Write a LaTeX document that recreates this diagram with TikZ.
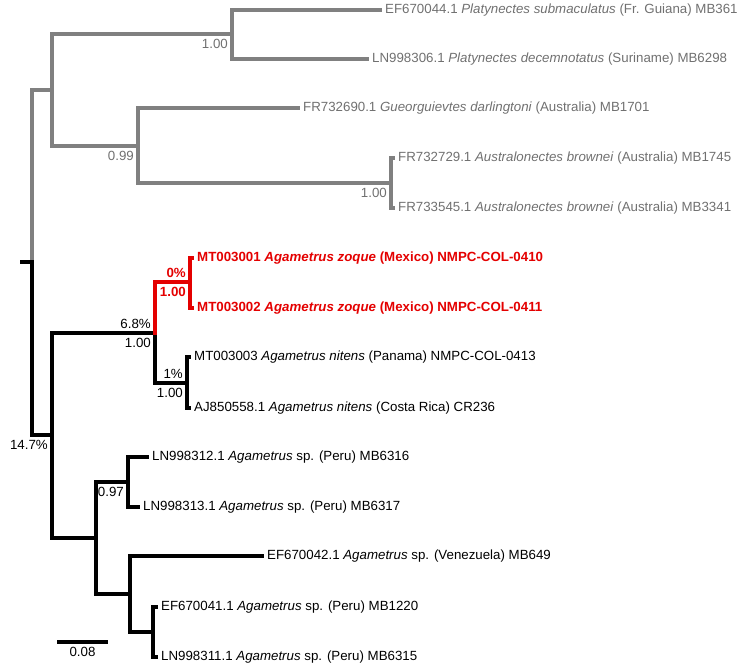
\documentclass[tikz,border=0pt]{standalone}
\usepackage{fontspec}
\setmainfont{Liberation Sans}
\definecolor{treegray}{RGB}{128,128,128}
\definecolor{labelgray}{RGB}{112,112,112}
\definecolor{zoquered}{RGB}{228,0,0}

\tikzset{
  branch/.style={line width=3.2pt, line cap=rect, line join=miter},
  tiplabel/.style={anchor=west, inner sep=0pt, xshift=5pt, font=\fontsize{13.3}{15}\selectfont},
  supbelow/.style={anchor=north east, inner sep=0pt, xshift=-4pt, yshift=-5pt, font=\fontsize{13.3}{15}\selectfont},
  supabove/.style={anchor=south east, inner sep=0pt, xshift=-4pt, yshift=4.5pt, font=\fontsize{13.3}{15}\selectfont},
}

% leaf: name, position, label, style
\NewDocumentCommand{\leaf}{mmmO{}}{%
\coordinate (#1) at (#2);
\node[tiplabel,#4] (#1l) at (#1) {#3};
}

\begin{document}
\begin{tikzpicture}[x=1pt, y=-1pt]
        \useasboundingbox (0,0) rectangle (750,665);

        % inner nodes
        \coordinate (r0) at (22,262);
        \coordinate (r) at (32,262);
        \coordinate (g) at (52,90);
        \coordinate (pl) at (232,34);
        \coordinate (au) at (138,146);
        \coordinate (aub) at (391,183);
        \coordinate (b) at (52,435);
        \coordinate (m) at (155,333);
        \coordinate (zq) at (190,282);
        \coordinate (nt) at (187,383);
        \coordinate (c) at (96,538);
        \coordinate (sp) at (128,482);
        \coordinate (v) at (130,594);
        \coordinate (w) at (153,632);

        % leaves, outgroup
        \leaf{t1}{380,10}{EF670044.1 \textit{Platynectes submaculatus} (Fr. Guiana) MB361}[labelgray]
        \leaf{t2}{367,59}{LN998306.1 \textit{Platynectes decemnotatus} (Suriname) MB6298}[labelgray]
        \leaf{t3}{298,108}{FR732690.1 \textit{Gueorguievtes darlingtoni} (Australia) MB1701}[labelgray]
        \leaf{t4}{393,158}{FR732729.1 \textit{Australonectes brownei} (Australia) MB1745}[labelgray]
        \leaf{t5}{393,208}{FR733545.1 \textit{Australonectes brownei} (Australia) MB3341}[labelgray]

        % leaves, Agametrus
        \leaf{t6}{192,258}{\textbf{MT003001 \textit{Agametrus zoque} (Mexico) NMPC-COL-0410}}[zoquered]
        \leaf{t7}{192,308}{\textbf{MT003002 \textit{Agametrus zoque} (Mexico) NMPC-COL-0411}}[zoquered]
        \leaf{t8}{189,357}{MT003003 \textit{Agametrus nitens} (Panama) NMPC-COL-0413}
        \leaf{t9}{189,408}{AJ850558.1 \textit{Agametrus nitens} (Costa Rica) CR236}
        \leaf{t10}{147,457}{LN998312.1 \textit{Agametrus} sp. (Peru) MB6316}
        \leaf{t11}{138,507}{LN998313.1 \textit{Agametrus} sp. (Peru) MB6317}
        \leaf{t12}{262,556}{EF670042.1 \textit{Agametrus} sp. (Venezuela) MB649}
        \leaf{t13}{156,607}{EF670041.1 \textit{Agametrus} sp. (Peru) MB1220}
        \leaf{t14}{156,657}{LN998311.1 \textit{Agametrus} sp. (Peru) MB6315}

        % branches
        \draw[branch, treegray] (r) |- (g) (g) |- (pl) (g) |- (au)
            (pl) |- (t1) (pl) |- (t2) (au) |- (t3) (au) |- (aub)
            (aub) |- (t4) (aub) |- (t5);
        \draw[branch] (r0) -- (r) (r) |- (b) (b) |- (c) (b) |- (m)
            (m) |- (nt) (nt) |- (t8) (nt) |- (t9)
            (c) |- (sp) (c) |- (v) (sp) |- (t10) (sp) |- (t11)
            (v) |- (t12) (v) |- (w) (w) |- (t13) (w) |- (t14);
        \draw[branch, zoquered] (m) |- (zq) (zq) |- (t6) (zq) |- (t7);

        % support values
        \node[supbelow, labelgray] (s1) at (pl) {1.00};
        \node[supbelow, labelgray] (s2) at (au) {0.99};
        \node[supbelow, labelgray] (s3) at (aub) {1.00};
        \node[supbelow] (s4) at (b) {14.7\%};
        \node[supabove] (s5) at (m) {6.8\%};
        \node[supbelow] (s6) at (m) {1.00};
        \node[supabove, zoquered, font=\fontsize{13.3}{15}\selectfont\bfseries] (s7) at (zq) {0\%};
        \node[supbelow, zoquered, font=\fontsize{13.3}{15}\selectfont\bfseries] (s8) at (zq) {1.00};
        \node[supabove] (s9) at (nt) {1\%};
        \node[supbelow] (s10) at (nt) {1.00};
        \node[supbelow] (s11) at (sp) {0.97};

        % scale bar
        \coordinate (sb1) at (57,642);
        \coordinate (sb2) at (108,642);
        \draw[line width=3.2pt] (sb1) -- (sb2) node[midway, below=4pt, inner sep=0pt, font=\fontsize{13.3}{15}\selectfont] (sbl) {0.08};
\end{tikzpicture}
\end{document}
